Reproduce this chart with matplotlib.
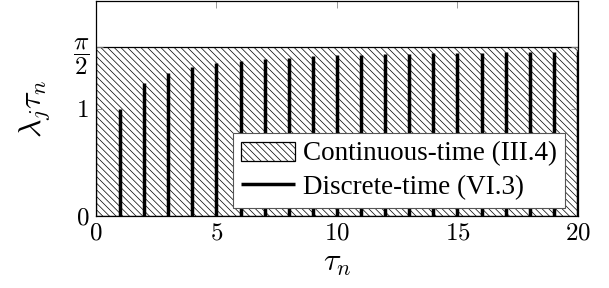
import numpy as np
import matplotlib
matplotlib.use('Agg')
import matplotlib.pyplot as plt
from matplotlib.patches import Rectangle

plt.rcParams['mathtext.fontset'] = 'cm'
plt.rcParams['font.family'] = ['Liberation Serif', 'DejaVu Serif']
plt.rcParams['hatch.color'] = '#9a9a9a'
plt.rcParams['hatch.linewidth'] = 0.5

# data
tau = np.arange(1, 21)
discrete = [1.00, 1.235, 1.333, 1.387, 1.42, 1.445, 1.46, 1.473, 1.486, 1.495,
            1.50, 1.507, 1.51, 1.513, 1.516, 1.52, 1.523, 1.526, 1.53, 1.533]
cont_bound = np.pi / 2
x_range = (0, 20)

fig = plt.figure(figsize=(6.09, 2.88), dpi=100)
ax = fig.add_axes([0.1576, 0.25, 0.7915, 0.746])

rect = Rectangle((x_range[0], 0), x_range[1] - x_range[0], cont_bound,
                 facecolor='white', edgecolor='black', hatch='\\\\\\\\\\',
                 linewidth=0.9, label='Continuous-time (III.4)', zorder=1)
ax.add_patch(rect)
ax.vlines(tau, 0, discrete, colors='black', linewidth=2.5,
          label='Discrete-time (VI.3)', zorder=2)

ax.set_xlim(0, 20)
ax.set_ylim(0, 2)
ax.set_xticks([0, 5, 10, 15, 20])
ax.set_xticklabels(['$0$', '$5$', '$10$', '$15$', '$20$'])
ax.set_yticks([0, 1, cont_bound])
ax.set_yticklabels(['$0$', '$1$', r'$\dfrac{\pi}{2}$'])
ax.tick_params(direction='in', length=5, width=0.6, color='#888888',
               labelsize=18, top=True, right=True, pad=5)
for s in ax.spines.values():
    s.set_linewidth(0.9)
    s.set_zorder(3)

ax.set_xlabel(r'$\tau_n$', fontsize=23, labelpad=3)
ax.set_ylabel(r'$\lambda_j\tau_n$', fontsize=23, labelpad=14)

leg = ax.legend(loc='lower right', fontsize=19.5, frameon=True, fancybox=False,
                edgecolor='#555555', framealpha=1, borderpad=0.3,
                handlelength=2.0, handletextpad=0.3, labelspacing=0.3,
                borderaxespad=0.3, bbox_to_anchor=(0.99, 0.0))
leg.get_frame().set_linewidth(0.8)
leg.set_zorder(4)

fig.savefig('out.png', dpi=100)
